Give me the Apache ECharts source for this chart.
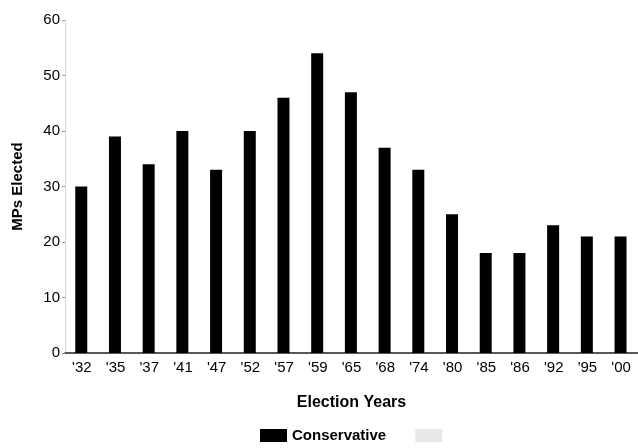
<!DOCTYPE html>
<html><head><meta charset="utf-8">
<script src="https://cdn.jsdelivr.net/npm/echarts@6/dist/echarts.min.js"></script>
<style>html,body{margin:0;padding:0;background:#fff}#c{width:638px;height:448px}</style>
</head><body><div id="c"></div>
<script>
const categories = ["'32","'35","'37","'41","'47","'52","'57","'59","'65","'68","'74","'80","'85","'86","'92","'95","'00"];
const conservative = [30,39,34,40,33,40,46,54,47,37,33,25,18,18,23,21,21];
const yTicks = [0,10,20,30,40,50,60];
const font = 'Liberation Sans, Arial, sans-serif';
const chart = echarts.init(document.getElementById('c'));
chart.setOption({
  animation:false,
  backgroundColor:'#fff',
  grid:{left:65,right:0,top:20,bottom:95},
  legend:{left:255,top:423,itemWidth:27,itemHeight:13,itemGap:29,
    textStyle:{fontFamily:font,fontSize:15,color:'#000',fontWeight:'bold'},
    data:[{name:'Conservative',icon:'rect'},{name:' ',icon:'rect'}]},
  xAxis:{type:'category',data:categories,name:'Election Years',nameLocation:'middle',nameGap:42,
    nameTextStyle:{fontFamily:font,fontSize:16,color:'#000',fontWeight:'bold'},
    axisLine:{lineStyle:{color:'#222',width:1.5}},axisTick:{show:false},
    axisLabel:{fontFamily:font,fontSize:15,color:'#000',margin:7,interval:0}},
  yAxis:{type:'value',min:0,max:60,interval:10,name:'MPs Elected',nameLocation:'middle',nameGap:40,
    nameTextStyle:{fontFamily:font,fontSize:15,color:'#000',fontWeight:'bold'},
    axisLine:{show:true,lineStyle:{color:'#ccc',type:'dotted',width:1}},
    axisTick:{show:true,length:3,lineStyle:{color:'#999'}},splitLine:{show:false},
    axisLabel:{fontFamily:font,fontSize:15,color:'#000',margin:5,
      formatter:v=>yTicks.includes(v)?String(v):''}},
  series:[
    {name:'Conservative',type:'bar',data:conservative,barWidth:12,itemStyle:{color:'#000'}},
    {name:' ',type:'bar',data:[],itemStyle:{color:'#e8e8e8'}}
  ]
});
</script></body></html>
